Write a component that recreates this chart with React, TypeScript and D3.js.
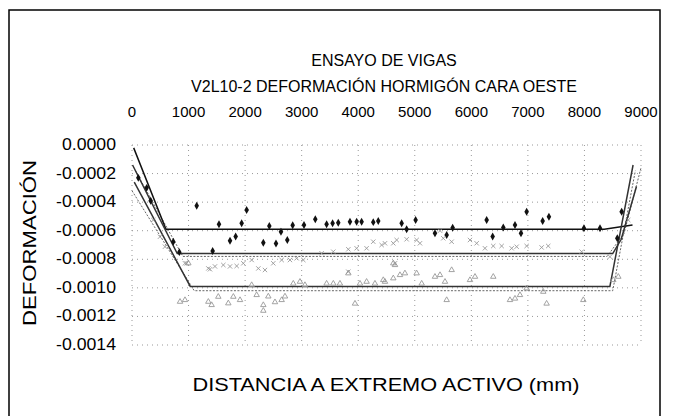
import React, { useEffect, useRef } from 'react';
import * as d3 from 'd3';

const xTicks = [0, 1000, 2000, 3000, 4000, 5000, 6000, 7000, 8000, 9000];
const yTicks = [0, -0.0002, -0.0004, -0.0006, -0.0008, -0.001, -0.0012, -0.0014];

// diamonds (black)
const diamondX = [112, 260, 330, 730, 837, 1144, 1426, 1538, 1733, 1833, 1939, 2027, 2322, 2428, 2546, 2634, 2746, 2841, 3041, 3241, 3441, 3547, 3647, 3854, 3972, 4060, 4266, 4354, 4768, 4856, 5015, 5357, 5564, 5670, 6271, 6377, 6565, 6772, 6878, 6978, 7261, 7372, 7991, 8275, 8581, 8658];
const diamondY = [-0.00023, -0.0003, -0.00039, -0.000677, -0.00075, -0.000425, -0.000742, -0.000555, -0.00067, -0.00064, -0.000548, -0.000455, -0.000684, -0.000567, -0.000689, -0.000607, -0.000665, -0.000562, -0.00056, -0.00052, -0.000555, -0.000548, -0.000544, -0.000537, -0.000537, -0.000537, -0.00054, -0.000532, -0.000548, -0.00059, -0.000525, -0.000618, -0.00063, -0.000579, -0.000525, -0.00064, -0.000577, -0.00056, -0.000618, -0.000467, -0.000532, -0.000502, -0.000583, -0.000583, -0.000653, -0.000467];

// crosses (grey)
const crossX = [377, 495, 583, 937, 967, 1350, 1379, 1467, 1615, 1733, 1851, 1968, 2116, 2234, 2351, 2498, 2646, 2793, 2911, 3029, 3353, 3559, 3825, 3825, 3972, 4148, 4266, 4414, 4473, 4620, 4650, 4680, 4856, 5033, 5092, 5446, 5504, 5652, 5976, 6094, 6241, 6388, 6536, 6713, 6801, 6978, 7243, 7360, 7951, 8451, 8775];
const crossY = [-0.000525, -0.000642, -0.000712, -0.000828, -0.000828, -0.000864, -0.00087, -0.00085, -0.00084, -0.00085, -0.000847, -0.000828, -0.000805, -0.000864, -0.000875, -0.000828, -0.000805, -0.000805, -0.000793, -0.000805, -0.000758, -0.000747, -0.00073, -0.000887, -0.000723, -0.000723, -0.000677, -0.0007, -0.000688, -0.000688, -0.000828, -0.000665, -0.00066, -0.000665, -0.000688, -0.0006, -0.000653, -0.000677, -0.000665, -0.000688, -0.000723, -0.000707, -0.000707, -0.000723, -0.000712, -0.000707, -0.000717, -0.000707, -0.000747, -0.000782, -0.000525];

// triangles (grey)
const triX = [849, 937, 996, 1350, 1408, 1526, 1703, 1792, 1910, 2116, 2204, 2322, 2322, 2410, 2528, 2646, 2705, 2852, 2970, 3058, 3441, 3560, 3677, 3825, 3943, 4031, 4148, 4296, 4443, 4620, 4620, 4473, 4650, 4738, 4826, 5033, 5122, 5357, 5446, 5534, 5564, 5652, 5976, 6065, 6388, 6683, 6772, 6860, 6978, 7272, 7331, 7980, 8510, 8599];
const triY = [-0.001097, -0.001085, -0.000828, -0.001097, -0.00112, -0.001062, -0.001108, -0.001062, -0.001085, -0.00098, -0.00105, -0.00112, -0.00116, -0.00106, -0.0011, -0.001085, -0.00106, -0.00097, -0.000957, -0.00098, -0.00097, -0.00097, -0.00097, -0.000898, -0.00111, -0.00097, -0.000957, -0.00097, -0.000945, -0.000828, -0.000933, -0.000957, -0.00084, -0.00091, -0.000898, -0.000898, -0.00097, -0.000922, -0.00091, -0.000957, -0.001085, -0.000875, -0.000945, -0.000922, -0.000922, -0.001085, -0.001075, -0.00105, -0.001003, -0.001027, -0.00111, -0.001085, -0.000945, -0.000922];

// fitted lines (solid)
const lineAX = [30, 600, 8350, 8850];
const lineAY = [-0.00002, -0.00059, -0.00059, -0.00056];
const lineBX = [10, 800, 8500, 8650, 8920];
const lineBY = [-0.00014, -0.00076, -0.00076, -0.00066, -0.00029];
const lineCX = [40, 1030, 8450, 8860];
const lineCY = [-0.00026, -0.00099, -0.00099, -0.00014];
// companion dotted lines
const dotBX = [60, 900, 8400, 8700, 9000];
const dotBY = [-0.00018, -0.00078, -0.00078, -0.00062, -0.00016];
const dotCX = [0, 1100, 8500, 8900];
const dotCY = [-0.00032, -0.00102, -0.00102, -0.00018];

const W = 676;
const H = 416;

export default function App() {
  const ref = useRef<SVGSVGElement>(null);

  useEffect(() => {
    const svg = d3.select(ref.current);
    svg.selectAll('*').remove();

    const x = d3.scaleLinear().domain([0, 9000]).range([132, 641]);
    const y = d3.scaleLinear().domain([0, -0.0014]).range([145, 345]);
    const font = 'Liberation Sans, Arial, sans-serif';

    // frame
    svg.append('rect')
      .attr('x', 9).attr('y', 10).attr('width', 651).attr('height', 420)
      .attr('fill', 'none').attr('stroke', '#000').attr('stroke-width', 1.5);

    // grid
    const g = svg.append('g');
    g.selectAll('line.h').data(yTicks).join('line')
      .attr('x1', x(0)).attr('x2', x(9000))
      .attr('y1', d => y(d)).attr('y2', d => y(d))
      .attr('stroke', '#999').attr('stroke-width', 1).attr('stroke-dasharray', '1,4');
    g.selectAll('line.v').data(xTicks).join('line')
      .attr('y1', y(0)).attr('y2', y(-0.0014))
      .attr('x1', d => x(d)).attr('x2', d => x(d))
      .attr('stroke', '#999').attr('stroke-width', 1).attr('stroke-dasharray', '1,4');

    // top axis labels
    svg.selectAll('text.xt').data(xTicks).join('text')
      .attr('x', d => x(d)).attr('y', 117)
      .attr('text-anchor', 'middle').attr('font-family', font).attr('font-size', 15)
      .text(d => String(d));

    svg.selectAll('text.yt').data(yTicks).join('text')
      .attr('x', 116).attr('y', d => y(d) + 5)
      .attr('text-anchor', 'end').attr('font-family', font).attr('font-size', 16)
      .attr('textLength', d => (d === 0 ? 54 : 60)).attr('lengthAdjust', 'spacingAndGlyphs')
      .text(d => d3.format('.4f')(d).replace('−', '-'));

    // titles
    svg.append('text').attr('x', 384).attr('y', 66).attr('text-anchor', 'middle')
      .attr('font-family', font).attr('font-size', 16).text('ENSAYO DE VIGAS');
    svg.append('text').attr('x', 384).attr('y', 92).attr('text-anchor', 'middle')
      .attr('font-family', font).attr('font-size', 16).text('V2L10-2 DEFORMACIÓN HORMIGÓN CARA OESTE');
    svg.append('text').attr('x', 386).attr('y', 391).attr('text-anchor', 'middle')
      .attr('font-family', font).attr('font-size', 18)
      .attr('textLength', 387).attr('lengthAdjust', 'spacingAndGlyphs')
      .text('DISTANCIA A EXTREMO ACTIVO (mm)');
    svg.append('text').attr('transform', 'translate(36,243) rotate(-90)').attr('text-anchor', 'middle')
      .attr('font-family', font).attr('font-size', 18)
      .attr('textLength', 166).attr('lengthAdjust', 'spacingAndGlyphs')
      .text('DEFORMACIÓN');

    // lines
    const line = d3.line<[number, number]>().x(d => x(d[0])).y(d => y(d[1]));
    const toPts = (xs: number[], ys: number[]) => xs.map((v, j) => [v, ys[j]] as [number, number]);
    [[dotBX, dotBY], [dotCX, dotCY]].forEach(([xs, ys]) => {
      svg.append('path').attr('d', line(toPts(xs, ys))).attr('fill', 'none')
        .attr('stroke', '#666').attr('stroke-width', 1).attr('stroke-dasharray', '2,1.5');
    });
    [[lineAX, lineAY], [lineBX, lineBY], [lineCX, lineCY]].forEach(([xs, ys], i) => {
      svg.append('path').attr('d', line(toPts(xs, ys))).attr('fill', 'none')
        .attr('stroke', i === 0 ? '#111' : '#333').attr('stroke-width', 1.5);
    });

    // markers
    const diamond = d3.symbol().type(d3.symbolDiamond).size(18);
    svg.selectAll('path.dm').data(diamondX).join('path')
      .attr('d', diamond)
      .attr('transform', (d, i) => `translate(${x(d)},${y(diamondY[i])})`)
      .attr('fill', '#111');
    const cross = d3.symbol().type(d3.symbolX).size(14);
    svg.selectAll('path.cr').data(crossX).join('path')
      .attr('d', cross)
      .attr('transform', (d, i) => `translate(${x(d)},${y(crossY[i])})`)
      .attr('fill', 'none').attr('stroke', '#999').attr('stroke-width', 0.9);
    const tri = d3.symbol().type(d3.symbolTriangle).size(13);
    svg.selectAll('path.tr').data(triX).join('path')
      .attr('d', tri)
      .attr('transform', (d, i) => `translate(${x(d)},${y(triY[i])})`)
      .attr('fill', 'none').attr('stroke', '#999').attr('stroke-width', 0.9);
  }, []);

  return (
    <svg ref={ref} width={W} height={H}
      style={{ position: 'absolute', left: 0, top: 0, background: '#fff' }} />
  );
}
